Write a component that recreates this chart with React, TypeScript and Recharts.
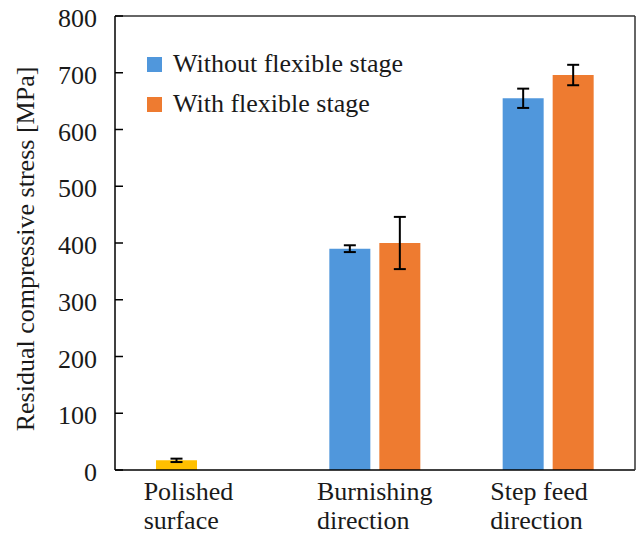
import React from 'react';
import { BarChart, Bar, XAxis, YAxis, ErrorBar, Cell, Legend, ReferenceLine } from 'recharts';

// values (MPa)
const categories = ['Polished\nsurface', 'Burnishing\ndirection', 'Step feed\ndirection'];
const withoutStage = [17, 390, 655];
const withoutStageErr = [3, 6, 17];
const withStage = [null, 400, 696];
const withStageErr = [null, 46, 18];
const yTicks = [0, 100, 200, 300, 400, 500, 600, 700, 800];
const legendOrder = ['without', 'with'];

const BLUE = '#5097DC';
const ORANGE = '#EE7B30';
const YELLOW = '#FFC000';
const INK = '#1a1a1a';
const FONT = '"Liberation Serif", "Times New Roman", serif';
const FONT_SIZE = 26;
const textStyle = { fontFamily: FONT, fontSize: FONT_SIZE, fill: INK };

const data = categories.map((name, i) => ({
  name,
  without: withoutStage[i],
  withoutErr: withoutStageErr[i],
  with: withStage[i],
  withErr: withStageErr[i],
}));

const YTick = ({ x, y, payload }: any) => (
  <g>
    <line x1={x + 18} x2={x + 26} y1={y} y2={y} stroke="#000" strokeWidth={1.5} />
    <text x={x} y={y} dy={11} textAnchor="end" style={textStyle}>
      {payload.value}
    </text>
  </g>
);

// labels are wrapped and left aligned, as in the original spreadsheet figure
const XTick = ({ x, y, payload }: any) => {
  const lines = String(payload.value).split('\n');
  const left = x - 58;
  return (
    <text x={left} y={y} style={textStyle}>
      {lines.map((l, i) => (
        <tspan key={i} x={left} dy={i === 0 ? 30 : 29}>
          {l}
        </tspan>
      ))}
    </text>
  );
};

const LegendContent = ({ payload }: any) => {
  const items = [...(payload || [])].sort(
    (a: any, b: any) => legendOrder.indexOf(a.dataKey) - legendOrder.indexOf(b.dataKey)
  );
  return (
    <div style={{ fontFamily: FONT, fontSize: FONT_SIZE, color: INK }}>
      {items.map((p: any) => (
        <div key={p.value} style={{ display: 'flex', alignItems: 'center', height: 40, whiteSpace: 'nowrap' }}>
          <span style={{ width: 15, height: 15, background: p.color, marginRight: 11, display: 'inline-block' }} />
          {p.value}
        </div>
      ))}
    </div>
  );
};

const YTitle = () => (
  <text transform="translate(34,249) rotate(-90)" textAnchor="middle" style={textStyle}>
    Residual compressive stress [MPa]
  </text>
);

export default function App() {
  return (
    <div style={{ position: 'absolute', left: 0, top: 0, background: '#fff' }}>
      <BarChart
        width={638}
        height={539}
        data={data}
        margin={{ top: 16, right: 0, bottom: 0, left: 0 }}
        barSize={41}
        barGap={9}
      >
        <XAxis
          dataKey="name"
          height={69}
          tickSize={0}
          tickMargin={0}
          tickLine={false}
          axisLine={{ stroke: '#000', strokeWidth: 1.5 }}
          tick={<XTick />}
          interval={0}
        />
        <YAxis
          width={115}
          domain={[0, 800]}
          ticks={yTicks}
          tickSize={0}
          tickMargin={18}
          tickLine={false}
          axisLine={{ stroke: '#000', strokeWidth: 1.5 }}
          tick={<YTick />}
          label={<YTitle />}
        />
        <YAxis
          yAxisId="frame"
          orientation="right"
          width={3}
          domain={[0, 800]}
          tick={false}
          tickLine={false}
          axisLine={{ stroke: '#333', strokeWidth: 1.5 }}
        />
        <ReferenceLine y={800} stroke="#333" strokeWidth={1.5} />
        <Legend
          layout="vertical"
          align="center"
          verticalAlign="middle"
          content={<LegendContent />}
          wrapperStyle={{ top: 44, left: 147, width: 'auto', height: 'auto' }}
        />
        <Bar dataKey="without" name="Without flexible stage" fill={BLUE} isAnimationActive={false}>
          {data.map((_, i) => (
            <Cell key={i} fill={i === 0 ? YELLOW : BLUE} />
          ))}
          <ErrorBar dataKey="withoutErr" width={6} stroke="#000" strokeWidth={2} />
        </Bar>
        <Bar dataKey="with" name="With flexible stage" fill={ORANGE} isAnimationActive={false}>
          <ErrorBar dataKey="withErr" width={6} stroke="#000" strokeWidth={2} />
        </Bar>
      </BarChart>
    </div>
  );
}
